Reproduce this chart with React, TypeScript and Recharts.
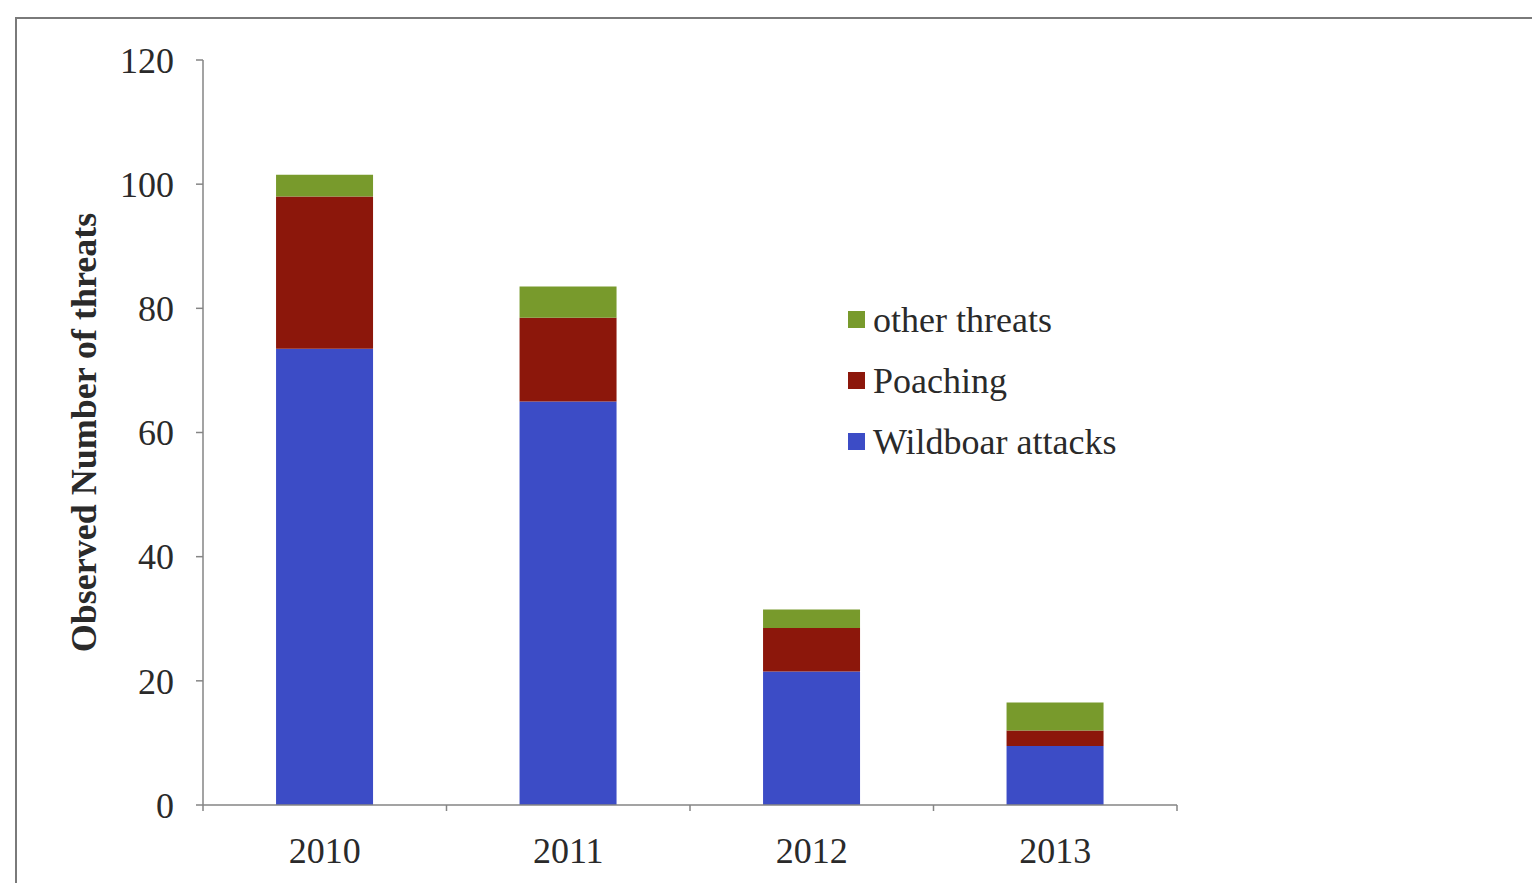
import { Bar, BarChart, Legend, XAxis, YAxis } from 'recharts'

const years = ['2010', '2011', '2012', '2013']
const wildboar = [73.5, 65, 21.5, 9.5]
const poaching = [24.5, 13.5, 7, 2.5]
const other = [3.5, 5, 3, 4.5]
const yTicks = [0, 20, 40, 60, 80, 100, 120]
// legend reads top-down in reverse stacking order
const legendOrder = ['other threats', 'Poaching', 'Wildboar attacks']

const data = years.map((year, i) => ({
  year,
  wildboar: wildboar[i],
  poaching: poaching[i],
  other: other[i],
}))

const W = 1532
const H = 883
const margin = { top: 60, right: 355, bottom: 0, left: 0 }
const Y_AXIS_W = 203
const X_AXIS_H = 78
const BAND = (W - margin.left - margin.right - Y_AXIS_W) / years.length

const FONT = '"Liberation Serif", "Times New Roman", serif'
const AXIS = '#858585'
const TEXT = '#2a2a2a'

// category label plus Excel-style tick marks on the category boundaries
function YearTick(props: any) {
  const { x, y, payload, index } = props
  const left = x - BAND / 2
  return (
    <g>
      <line x1={left} y1={y} x2={left} y2={y + 6} stroke={AXIS} strokeWidth={1.5} />
      {index === years.length - 1 && (
        <line x1={x + BAND / 2} y1={y} x2={x + BAND / 2} y2={y + 6} stroke={AXIS} strokeWidth={1.5} />
      )}
      <text x={x} y={y + 58} textAnchor="middle" fill={TEXT} fontSize={36} fontFamily={FONT}>
        {payload.value}
      </text>
    </g>
  )
}

function YTitle(props: any) {
  const vb = props.viewBox
  const cx = 84
  const cy = vb.y + vb.height / 2
  return (
    <text
      x={cx}
      y={cy}
      transform={`rotate(-90 ${cx} ${cy})`}
      textAnchor="middle"
      dominantBaseline="central"
      fill={TEXT}
      fontSize={36}
      fontWeight="bold"
      fontFamily={FONT}
    >
      Observed Number of threats
    </text>
  )
}

function LegendBox(props: any) {
  const items = [...(props.payload || [])].sort(
    (a: any, b: any) => legendOrder.indexOf(a.value) - legendOrder.indexOf(b.value)
  )
  return (
    <div style={{ fontFamily: FONT, fontSize: 36, color: TEXT }}>
      {items.map((it: any) => (
        <div key={it.value} style={{ display: 'flex', alignItems: 'center', height: 61 }}>
          <span style={{ width: 17, height: 17, background: it.color, marginRight: 8 }} />
          <span>{it.value}</span>
        </div>
      ))}
    </div>
  )
}

export default function App() {
  return (
    <div
      style={{
        position: 'absolute',
        left: 0,
        top: 0,
        width: W,
        height: H,
        background: '#fff',
        overflow: 'hidden',
      }}
    >
      <div
        style={{
          position: 'absolute',
          left: 15,
          top: 17,
          width: 1700,
          height: 1100,
          border: '2px solid #7a7a7a',
        }}
      />
      <BarChart width={W} height={H} data={data} margin={margin} barCategoryGap="30%">
        <XAxis
          dataKey="year"
          height={X_AXIS_H}
          stroke={AXIS}
          strokeWidth={1.5}
          tickLine={false}
          tickSize={0}
          tickMargin={0}
          tick={<YearTick />}
        />
        <YAxis
          width={Y_AXIS_W}
          domain={[0, 120]}
          ticks={yTicks}
          interval={0}
          stroke={AXIS}
          strokeWidth={1.5}
          tickSize={7}
          tickMargin={22}
          tick={{ fill: TEXT, fontSize: 36, fontFamily: FONT }}
          label={<YTitle />}
        />
        <Legend
          layout="vertical"
          align="center"
          verticalAlign="middle"
          content={<LegendBox />}
          wrapperStyle={{ left: 848, top: 289, width: 400 }}
        />
        <Bar dataKey="wildboar" name="Wildboar attacks" stackId="a" fill="#3c4cc6" isAnimationActive={false} />
        <Bar dataKey="poaching" name="Poaching" stackId="a" fill="#8c170b" isAnimationActive={false} />
        <Bar dataKey="other" name="other threats" stackId="a" fill="#789a2c" isAnimationActive={false} />
      </BarChart>
    </div>
  )
}
